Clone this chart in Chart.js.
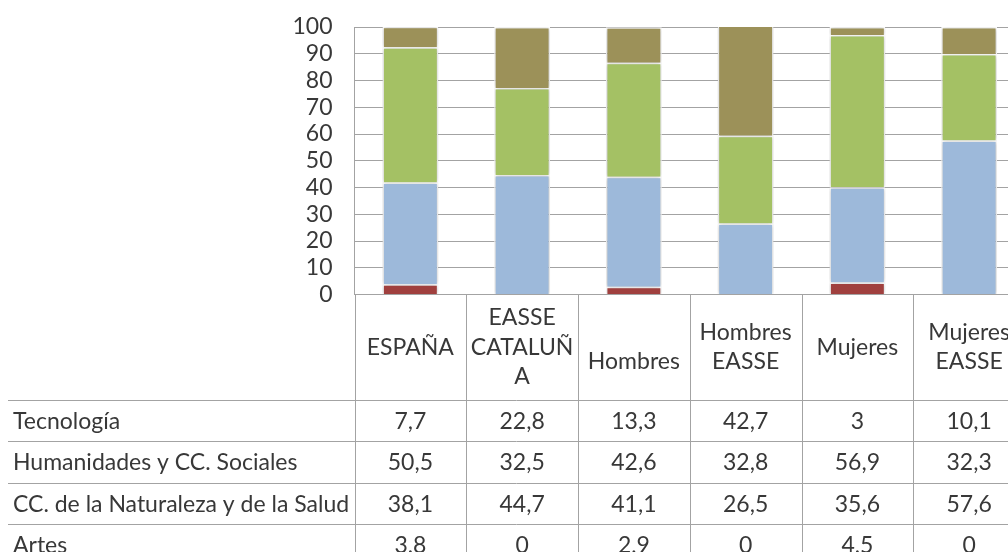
<!DOCTYPE html>
<html>
<head>
<meta charset="utf-8">
<script src="https://cdn.jsdelivr.net/npm/chart.js@4"></script>
<style>
  html, body { margin: 0; padding: 0; background: #fff; overflow: hidden; }
  #wrap { width: 1030px; height: 552px; }
</style>
</head>
<body>
<div id="wrap"><canvas id="grafico" width="1030" height="552"></canvas></div>
<script>
// Datos (en %)
const categorias = ['ESPAÑA', ['EASSE', 'CATALUÑ', 'A'], ['', 'Hombres'], ['Hombres', 'EASSE'], 'Mujeres', ['Mujeres', 'EASSE']];
const tecnologia = [7.7, 22.8, 13.3, 42.7, 3, 10.1];
const humanidades = [50.5, 32.5, 42.6, 32.8, 56.9, 32.3];
const naturaleza = [38.1, 44.7, 41.1, 26.5, 35.6, 57.6];
const artes = [3.8, 0, 2.9, 0, 4.5, 0];
const ticksY = [0, 10, 20, 30, 40, 50, 60, 70, 80, 90, 100];

const fuente = 'Lato, "Open Sans", sans-serif';
const colorTexto = '#383838';
const colorLinea = '#a3a3a3';

// Tabla de datos bajo el gráfico
const tablaDatos = {
  id: 'tablaDatos',
  afterDraw(chart) {
    const ctx = chart.ctx;
    const x = chart.scales.x;
    const area = chart.chartArea;
    const ancho = x.width / categorias.length;
    const altoCabecera = 105.5;
    const altoFila = 41.3;
    const filas = chart.data.datasets.slice().reverse(); // Tecnología arriba

    ctx.save();
    ctx.strokeStyle = colorLinea;
    ctx.lineWidth = 1;

    // líneas horizontales de la tabla
    for (let r = 0; r <= filas.length; r++) {
      const y = Math.round(area.bottom + altoCabecera + r * altoFila) + 0.5;
      ctx.beginPath();
      ctx.moveTo(8, y);
      ctx.lineTo(area.right, y);
      ctx.stroke();
    }
    // líneas verticales
    for (let i = 0; i <= categorias.length; i++) {
      const xv = Math.round(area.left + i * ancho) + 0.5;
      ctx.beginPath();
      ctx.moveTo(xv, area.bottom);
      ctx.lineTo(xv, chart.height);
      ctx.stroke();
    }

    ctx.fillStyle = colorTexto;
    ctx.font = '23px ' + fuente;
    ctx.textBaseline = 'middle';

    // cabecera con las categorías
    ctx.textAlign = 'center';
    const yCab = area.bottom + altoCabecera / 2;
    categorias.forEach((cat, i) => {
      const lineas = Array.isArray(cat) ? cat : [cat];
      const cx = x.getPixelForValue(i);
      const alto = 29.5;
      lineas.forEach((l, k) => {
        ctx.fillText(l, cx, yCab + (k - (lineas.length - 1) / 2) * alto);
      });
    });

    // filas con los valores
    filas.forEach((ds, r) => {
      const y = area.bottom + altoCabecera + r * altoFila + altoFila / 2 + 1;
      ctx.textAlign = 'left';
      ctx.fillText(ds.label, 13, y);
      ctx.textAlign = 'center';
      ds.data.forEach((v, i) => {
        ctx.fillText(String(v).replace('.', ','), x.getPixelForValue(i), y);
      });
    });
    ctx.restore();
  }
};

// Sombra suave de las barras
const sombra = {
  id: 'sombra',
  beforeDatasetsDraw(chart) {
    chart.ctx.save();
    chart.ctx.shadowColor = 'rgba(0,0,0,0.25)';
    chart.ctx.shadowBlur = 4;
  },
  afterDatasetsDraw(chart) {
    chart.ctx.restore();
  }
};

new Chart(document.getElementById('grafico'), {
  type: 'bar',
  data: {
    labels: categorias,
    datasets: [
      { label: 'Artes', data: artes, backgroundColor: '#a0403e' },
      { label: 'CC. de la Naturaleza y de la Salud', data: naturaleza, backgroundColor: '#9db9da' },
      { label: 'Humanidades y CC. Sociales', data: humanidades, backgroundColor: '#a4c164' },
      { label: 'Tecnología', data: tecnologia, backgroundColor: '#9c9159' }
    ].map(d => Object.assign(d, {
      borderColor: '#ffffff',
      borderWidth: 1.5,
      barPercentage: 0.5,
      categoryPercentage: 1
    }))
  },
  options: {
    responsive: false,
    animation: false,
    layout: { padding: { top: 27, right: 5, bottom: 257.5, left: 0 } },
    plugins: { legend: { display: false }, tooltip: { enabled: false } },
    scales: {
      x: {
        stacked: true,
        ticks: { display: false },
        grid: { display: false, drawTicks: false },
        border: { display: true, color: colorLinea, width: 1 },
        afterFit(scale) { scale.height = 0; }
      },
      y: {
        stacked: true,
        min: 0,
        max: 100,
        afterBuildTicks(scale) { scale.ticks = ticksY.map(v => ({ value: v })); },
        ticks: { color: colorTexto, font: { family: fuente, size: 23 }, padding: 22, autoSkip: false },
        grid: { color: colorLinea, drawTicks: false },
        border: { display: true, color: colorLinea },
        afterFit(scale) {
          scale.width = 354.5;
          scale.paddingTop = 0;
          scale.paddingBottom = 0;
        }
      }
    }
  },
  plugins: [sombra, tablaDatos]
});
</script>
</body>
</html>
